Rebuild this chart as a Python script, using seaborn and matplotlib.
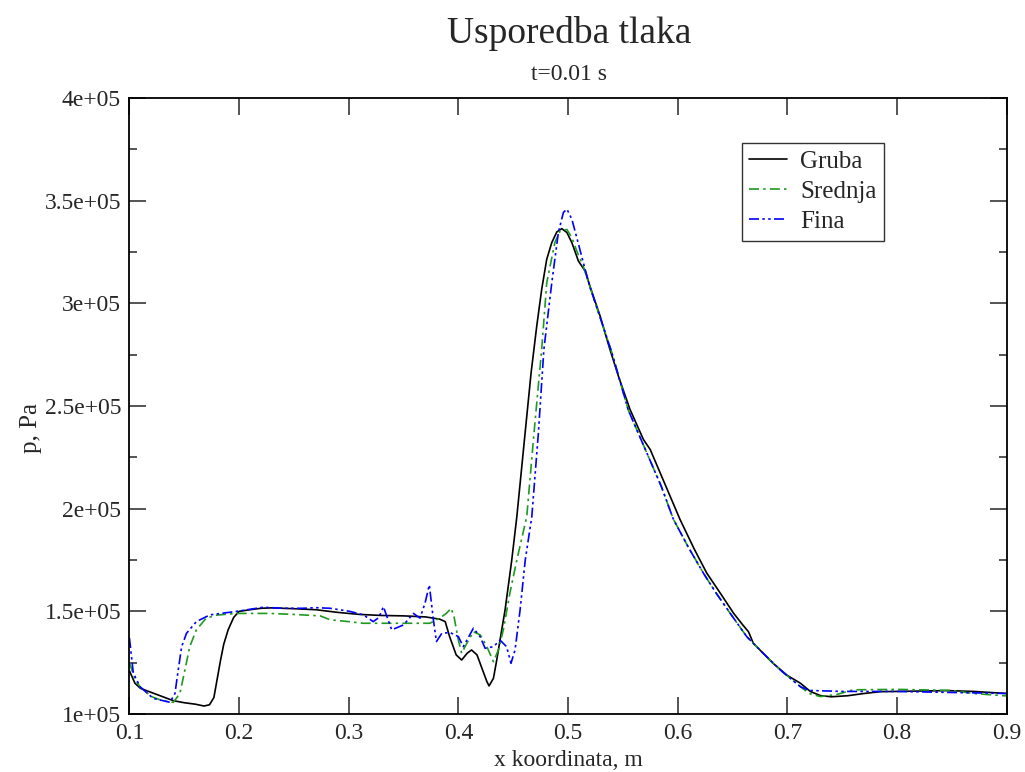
import numpy as np
import pandas as pd
import matplotlib
matplotlib.use('Agg')
import matplotlib.pyplot as plt
import seaborn as sns
from matplotlib.ticker import MultipleLocator

# --- Podaci (očitani s grafa) ---
x_gruba = [0.100, 0.105, 0.110, 0.120, 0.130, 0.140, 0.150, 0.160, 0.168, 0.173,
           0.177, 0.180, 0.183, 0.186, 0.190, 0.195, 0.200, 0.210, 0.220, 0.230,
           0.250, 0.270, 0.290, 0.310, 0.330, 0.350, 0.370, 0.383, 0.388, 0.392,
           0.398, 0.403, 0.408, 0.412, 0.417, 0.421, 0.426, 0.428, 0.432, 0.435,
           0.438, 0.4426, 0.4487, 0.4533, 0.4609, 0.4663, 0.4715, 0.476, 0.4806, 0.4852,
           0.4898, 0.4943, 0.499, 0.5035, 0.5095, 0.5156, 0.520, 0.5293, 0.538, 0.546,
           0.5566, 0.5688, 0.575, 0.590, 0.6023, 0.615, 0.6266, 0.640, 0.651, 0.660,
           0.6646, 0.669, 0.678, 0.687, 0.700, 0.712, 0.721, 0.730, 0.740, 0.755,
           0.770, 0.785, 0.800, 0.846, 0.870, 0.900]
p_gruba = [121000, 115000, 112500, 110500, 108500, 106500, 105500, 104800, 103900, 104500,
           108000, 117000, 126000, 134000, 141000, 147000, 150000, 150800, 151500, 151700,
           151300, 150800, 149500, 148500, 148000, 147800, 147300, 146200, 145000, 137700,
           128800, 126300, 129600, 131200, 128800, 123000, 115800, 113700, 117400, 126300,
           136000, 150700, 175000, 196000, 237000, 266000, 289000, 306800, 321500, 329600,
           334800, 336400, 334500, 329600, 320600, 315800, 308400, 293800, 278000, 264500,
           248300, 233700, 228800, 210000, 194600, 180500, 168600, 158000, 149100, 143000,
           140100, 134500, 129600, 124700, 118800, 115000, 111000, 109000, 108400, 108900,
           110000, 110900, 111000, 111400, 111000, 110000]

x_srednja = [0.100, 0.105, 0.110, 0.120, 0.130, 0.140, 0.146, 0.1506, 0.155, 0.161,
             0.170, 0.180, 0.1978, 0.228, 0.250, 0.274, 0.283, 0.300, 0.313, 0.3435,
             0.374, 0.383, 0.389, 0.3934, 0.396, 0.400, 0.403, 0.4077, 0.4137, 0.420,
             0.426, 0.432, 0.4365, 0.441, 0.447, 0.4533, 0.4624, 0.469, 0.476, 0.4806,
             0.488, 0.4928, 0.499, 0.5035, 0.508, 0.514, 0.520, 0.530, 0.540, 0.555,
             0.5704, 0.585, 0.596, 0.610, 0.6235, 0.635, 0.648, 0.663, 0.675, 0.6935,
             0.712, 0.720, 0.730, 0.745, 0.760, 0.800, 0.850, 0.870, 0.900]
p_srednja = [125000, 117000, 113000, 108500, 106500, 105700, 110000, 121500, 132800, 141000,
             146700, 148200, 149000, 149000, 148500, 147800, 145900, 145000, 144200, 144200,
             144200, 146700, 149000, 151500, 147500, 136000, 129600, 134400, 140100, 138500,
             132800, 125500, 131200, 141000, 158900, 175000, 196200, 237000, 277600, 310000,
             329600, 335300, 336000, 332000, 325500, 318000, 308000, 292000, 276000, 248000,
             229000, 211000, 195000, 181000, 168600, 159000, 149000, 137700, 131200, 121500,
             113300, 110000, 108500, 109500, 111800, 112000, 111500, 110000, 108800]

x_fina = [0.100, 0.1035, 0.1096, 0.1217, 0.137, 0.1415, 0.1445, 0.1476, 0.152, 0.161,
          0.1735, 0.1978, 0.222, 0.240, 0.258, 0.270, 0.283, 0.301, 0.3133, 0.3224,
          0.3275, 0.3316, 0.3392, 0.350, 0.359, 0.365, 0.3696, 0.3735, 0.3772, 0.380,
          0.3849, 0.3924, 0.400, 0.4045, 0.4137, 0.4198, 0.4244, 0.432, 0.438, 0.444,
          0.448, 0.4517, 0.4563, 0.461, 0.467, 0.473, 0.478, 0.4852, 0.4912, 0.4958,
          0.499, 0.5035, 0.508, 0.514, 0.520, 0.530, 0.540, 0.555, 0.5704, 0.585,
          0.596, 0.610, 0.6235, 0.635, 0.648, 0.663, 0.675, 0.6935, 0.712, 0.720,
          0.750, 0.800, 0.850, 0.900]
p_fina = [137000, 120000, 113300, 107600, 105700, 110000, 121500, 132800, 139300, 145000,
          148300, 150000, 152000, 151500, 151500, 151800, 151500, 150000, 148300, 145000,
          147000, 152300, 141000, 143400, 149000, 146700, 154000, 162900, 145900, 135300,
          139300, 139700, 137700, 132800, 141800, 137700, 132000, 132800, 136000, 132800,
          124700, 131200, 150700, 175000, 196200, 237000, 277600, 310000, 334500, 344300,
          345900, 341000, 332000, 319800, 308000, 292000, 276000, 248000, 229000, 211000,
          195000, 181000, 168600, 159000, 149000, 137700, 131200, 121500, 113300, 111500,
          111000, 111000, 110500, 110000]

x_ticks = [0.1, 0.2, 0.3, 0.4, 0.5, 0.6, 0.7, 0.8, 0.9]
x_tick_labels = ['0.1', '0.2', '0.3', '0.4', '0.5', '0.6', '0.7', '0.8', '0.9']
y_ticks = [1e5, 1.5e5, 2e5, 2.5e5, 3e5, 3.5e5, 4e5]
y_tick_labels = ['1e+05', '1.5e+05', '2e+05', '2.5e+05', '3e+05', '3.5e+05', '4e+05']

sns.set_style('ticks')
plt.rcParams['font.family'] = ['Liberation Serif', 'DejaVu Serif']

fig = plt.figure(figsize=(10.25, 7.72), dpi=100)
ax = fig.add_axes([0.1263, 0.0751, 0.8557, 0.7979])

sns.lineplot(x=x_gruba, y=p_gruba, ax=ax, color='black', linewidth=1.2,
             linestyle='-', label='Gruba')
sns.lineplot(x=x_srednja, y=p_srednja, ax=ax, color='#1f9a1f', linewidth=1.2,
             linestyle=(0, (6, 2.5, 1.5, 2.5)), label='Srednja')
sns.lineplot(x=x_fina, y=p_fina, ax=ax, color='#0000ff', linewidth=1.2,
             linestyle=(0, (6, 2, 1.5, 2, 1.5, 2)), label='Fina')

ax.set_xlim(0.1, 0.9)
ax.set_ylim(1e5, 4e5)
ax.set_xticks(x_ticks, x_tick_labels)
ax.set_yticks(y_ticks, y_tick_labels)
ax.yaxis.set_minor_locator(MultipleLocator(0.25e5))
ax.tick_params(which='both', direction='in', top=True, right=True, labelsize=17, width=1.1)
ax.tick_params(which='major', length=12)
ax.tick_params(which='minor', length=6)
ax.tick_params(axis='x', pad=6.5)
ax.tick_params(axis='y', pad=6)
for s in ax.spines.values():
    s.set_linewidth(1.3)
    s.set_color('black')

ax.set_xlabel('x koordinata, m', fontsize=17, labelpad=4)
ax.set_ylabel('p, Pa', fontsize=18)
ax.yaxis.set_label_coords(-0.100, 0.464)
fig.text(0.555, 0.957, 'Usporedba tlaka', ha='center', va='center', fontsize=27)
fig.text(0.555, 0.904, 't=0.01 s', ha='center', va='center', fontsize=17)

leg = ax.legend(loc='upper left', bbox_to_anchor=(0.698, 0.927), borderaxespad=0,
                fontsize=18, frameon=True, fancybox=False, handlelength=1.5,
                handletextpad=0.55, labelspacing=0.3, borderpad=0.3)
leg.get_frame().set_edgecolor('black')
leg.get_frame().set_linewidth(1.0)

fig.savefig('out.png', dpi=100)
